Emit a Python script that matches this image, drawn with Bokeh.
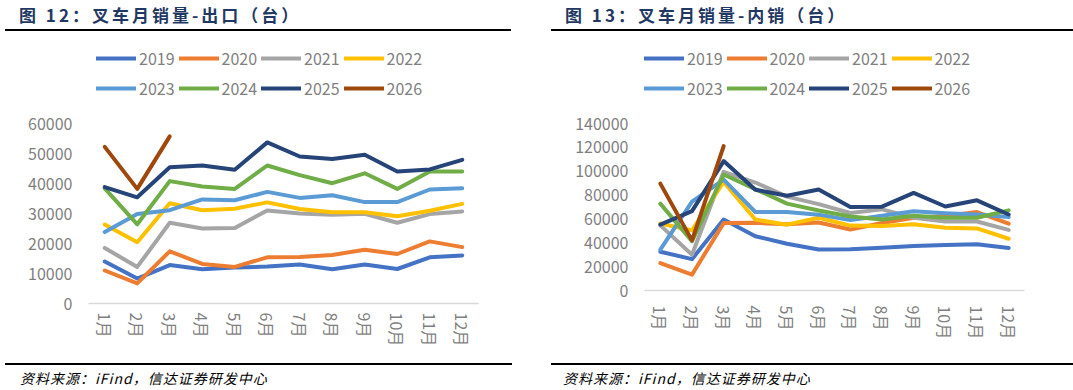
from bokeh.plotting import figure
from bokeh.models import (Range1d, FactorRange, FixedTicker, BasicTickFormatter,
                          Legend, LegendItem, Div)
from bokeh.layouts import row, column
from bokeh.embed import file_html
from bokeh.resources import INLINE

months = ["1月", "2月", "3月", "4月", "5月", "6月", "7月", "8月", "9月", "10月", "11月", "12月"]
years = ["2019", "2020", "2021", "2022", "2023", "2024", "2025", "2026"]
colors = ["#4472C4", "#ED7D31", "#A5A5A5", "#FFC000", "#5B9BD5", "#70AD47", "#264478", "#9E480E"]

# 叉车月销量-出口（台）
exp_ticks = [0, 10000, 20000, 30000, 40000, 50000, 60000]
exp_2019 = [14000, 8300, 12800, 11400, 12000, 12300, 13000, 11400, 13000, 11500, 15400, 16000]
exp_2020 = [11000, 6700, 17400, 13200, 12200, 15400, 15500, 16200, 17900, 16500, 20700, 18800]
exp_2021 = [18500, 12200, 26900, 25000, 25200, 31000, 30000, 29600, 29900, 26900, 29800, 30700]
exp_2022 = [26300, 20400, 33400, 31100, 31600, 33700, 31500, 30400, 30400, 29100, 30900, 33200]
exp_2023 = [23800, 29800, 31100, 34700, 34400, 37200, 35200, 36100, 33800, 33800, 38000, 38400]
exp_2024 = [38400, 26400, 40800, 39000, 38200, 46000, 42800, 40100, 43400, 38200, 44000, 44000]
exp_2025 = [38800, 35400, 45400, 46000, 44600, 53700, 49000, 48200, 49600, 44000, 44700, 47900]
exp_2026 = [52200, 38200, 55700]

# 叉车月销量-内销（台）
dom_ticks = [0, 20000, 40000, 60000, 80000, 100000, 120000, 140000]
dom_2019 = [32500, 26300, 59500, 45500, 39200, 34300, 34600, 35800, 37400, 38200, 38800, 35600]
dom_2020 = [23000, 13300, 56500, 56700, 55500, 57000, 51200, 56600, 61000, 62500, 65800, 56000]
dom_2021 = [54600, 30000, 99500, 90500, 78700, 72400, 65000, 68000, 61000, 57800, 57800, 50800]
dom_2022 = [56200, 50400, 91000, 59500, 55200, 61000, 54400, 54000, 55600, 52600, 52000, 43400]
dom_2023 = [34300, 74500, 93000, 65800, 65800, 63600, 59000, 62600, 66400, 64800, 63700, 61600]
dom_2024 = [72800, 41300, 97200, 85000, 72800, 67000, 62000, 59500, 62600, 61000, 61000, 67200]
dom_2025 = [55300, 66500, 108500, 84500, 79500, 84600, 70000, 70300, 81800, 70400, 75600, 63700]
dom_2026 = [89600, 42000, 121000]

export_series = [exp_2019, exp_2020, exp_2021, exp_2022, exp_2023, exp_2024, exp_2025, exp_2026]
domestic_series = [dom_2019, dom_2020, dom_2021, dom_2022, dom_2023, dom_2024, dom_2025, dom_2026]

FONT = "Noto Sans CJK SC"
GRAY = "#7F7F7F"
FIG_H = 324      # chart figure height (page y 36 .. 360)
HEAD_PX = 87     # space above the top tick, inside the frame, holding the legend


def make_chart(series, ticks, width, bl, br, bb, leg_x, label_standoff_x):
    frame_h = FIG_H - bb
    top_val = ticks[-1]
    axis_px = frame_h - HEAD_PX
    y_end = top_val * (frame_h / axis_px)
    p = figure(x_range=FactorRange(*months, range_padding=0), y_range=Range1d(0, y_end),
               width=width, height=FIG_H, output_backend="svg", toolbar_location=None,
               title=None,
               min_border_left=bl, min_border_right=br, min_border_top=0, min_border_bottom=bb,
               margin=0)
    p.outline_line_color = None
    p.xgrid.visible = False
    p.ygrid.visible = False

    p.yaxis.ticker = FixedTicker(ticks=ticks)
    p.yaxis.formatter = BasicTickFormatter(use_scientific=False)
    p.yaxis.axis_line_color = None
    p.yaxis.major_tick_line_color = None
    p.yaxis.minor_tick_line_color = None
    p.yaxis.major_label_text_font = FONT
    p.yaxis.major_label_text_font_size = "16px"
    p.yaxis.major_label_text_color = GRAY
    p.yaxis.major_label_standoff = 10

    p.xaxis.axis_line_color = "#D9D9D9"
    p.xaxis.axis_line_width = 1.5
    p.xaxis.major_tick_line_color = None
    p.xaxis.minor_tick_line_color = None
    p.xaxis.major_label_orientation = "vertical"
    p.xaxis.major_label_text_font = FONT
    p.xaxis.major_label_text_font_size = "16px"
    p.xaxis.major_label_text_color = GRAY
    p.xaxis.major_label_standoff = label_standoff_x

    items = []
    for yr, vals, col in zip(years, series, colors):
        r = p.line(x=months[:len(vals)], y=vals, line_color=col, line_width=4,
                   line_cap="round", line_join="round")
        items.append(LegendItem(label=yr, renderers=[r]))

    leg_bottom = axis_px + 22
    legend = Legend(items=items, location=(leg_x, leg_bottom), orientation="horizontal", ncols=4,
                    glyph_width=40, glyph_height=26, label_height=26, label_standoff=3,
                    spacing=4, padding=0, margin=0,
                    label_text_font=FONT, label_text_font_size="16px", label_text_color=GRAY,
                    border_line_color=None, background_fill_alpha=0)
    p.add_layout(legend)
    return p


def title_div(text, width, text_left, rule_left, rule_width):
    html = (
        f'<div style="position:relative;width:{width}px;height:36px;">'
        f'<div style="position:absolute;left:{text_left}px;top:3px;white-space:nowrap;'
        f'font-family:\'{FONT}\';font-weight:bold;font-size:17px;letter-spacing:3px;'
        f'line-height:24px;color:#1F3864;">{text}</div>'
        f'<div style="position:absolute;left:{rule_left}px;top:29px;width:{rule_width}px;'
        f'height:2px;background:#000;"></div></div>'
    )
    return Div(text=html, width=width, height=36, margin=0)


def source_div(text, width, text_left, rule_left, rule_width):
    html = (
        f'<div style="position:relative;width:{width}px;height:30px;">'
        f'<div style="position:absolute;left:{rule_left}px;top:3px;width:{rule_width}px;'
        f'height:2px;background:#000;"></div>'
        f'<div style="position:absolute;left:{text_left}px;top:8px;white-space:nowrap;'
        f'font-family:\'{FONT}\';font-style:italic;font-size:14px;letter-spacing:1px;'
        f'line-height:20px;color:#000;">{text}</div></div>'
    )
    return Div(text=html, width=width, height=30, margin=0)


left_chart = make_chart(export_series, exp_ticks, 536, 88, 58, 57, 8, 3)
right_chart = make_chart(domestic_series, dom_ticks, 537, 108, 49, 70, 0, 9)

left_panel = column(
    title_div("图 12：叉车月销量-出口（台）", 536, 19, 5, 506),
    left_chart,
    source_div("资料来源：iFind，信达证券研发中心", 536, 20, 5, 507),
    margin=0, spacing=0)
right_panel = column(
    title_div("图 13：叉车月销量-内销（台）", 537, 29, 15, 522),
    right_chart,
    source_div("资料来源：iFind，信达证券研发中心", 537, 27, 15, 522),
    margin=0, spacing=0)

layout = row(left_panel, right_panel, margin=0, spacing=0)

open("out.html", "w").write(file_html(layout, INLINE))
